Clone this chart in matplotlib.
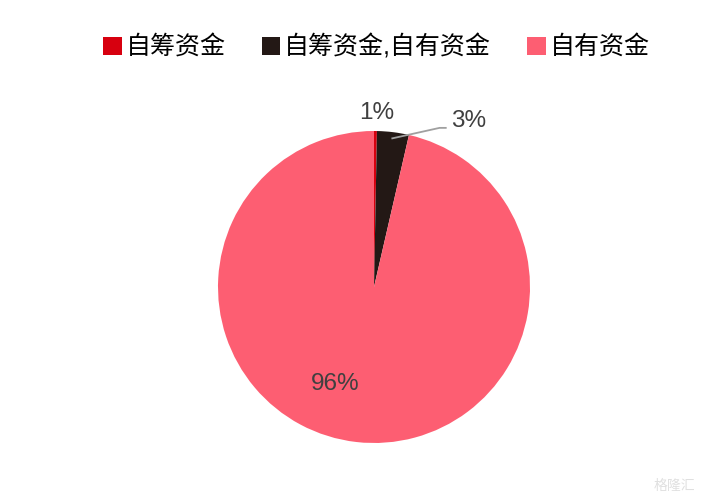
import matplotlib
matplotlib.use("Agg")
import matplotlib.pyplot as plt
import numpy as np

plt.rcParams['font.family'] = ['Liberation Sans', 'Noto Sans CJK SC', 'DejaVu Sans']

categories = ['自筹资金', '自筹资金,自有资金', '自有资金']
values = [0.3, 3.3, 96.4]
pct_labels = ['1%', '3%', '96%']
colors = ['#D7000F', '#231815', '#FD5E72']

fig = plt.figure(figsize=(7.28, 5.04), dpi=100)
ax = fig.add_axes([218/728, 61/504, 312/728, 312/504])
wedges, _ = ax.pie(values, colors=colors, startangle=90, counterclock=False,
                   radius=1.0, wedgeprops=dict(linewidth=0))
ax.set_xlim(-1, 1)
ax.set_ylim(-1, 1)
ax.set_aspect('equal')
ax.axis('off')

tc = '#404040'
fs = 17.5
# 1%
ax.text(0.02, 1.115, pct_labels[0], ha='center', va='center', fontsize=fs, color=tc, clip_on=False)
# 3% with leader
w = wedges[1]
mid = np.deg2rad((w.theta1 + w.theta2) / 2)
sx, sy = 0.96*np.cos(mid), 0.96*np.sin(mid)
ax.plot([sx, 0.42, 0.46], [sy, 1.02, 1.02], color='#A0A0A0', lw=1.3, clip_on=False)
ax.text(0.605, 1.065, pct_labels[1], ha='center', va='center', fontsize=fs, color=tc, clip_on=False)
# 96%
ax.text(-0.25, -0.62, pct_labels[2], ha='center', va='center', fontsize=fs, color=tc)

leg = fig.legend(wedges, categories, loc='center', bbox_to_anchor=(0.517, 0.907), ncol=3,
                 frameon=False, fontsize=18, handlelength=0.75, handleheight=0.75,
                 handletextpad=0.15, columnspacing=1.45)

fig.text(0.955, 0.035, '格隆汇', ha='right', va='center', fontsize=10, color='#E0E0E0',
         family=['Noto Sans CJK SC'])

fig.savefig('out.png', dpi=100)
